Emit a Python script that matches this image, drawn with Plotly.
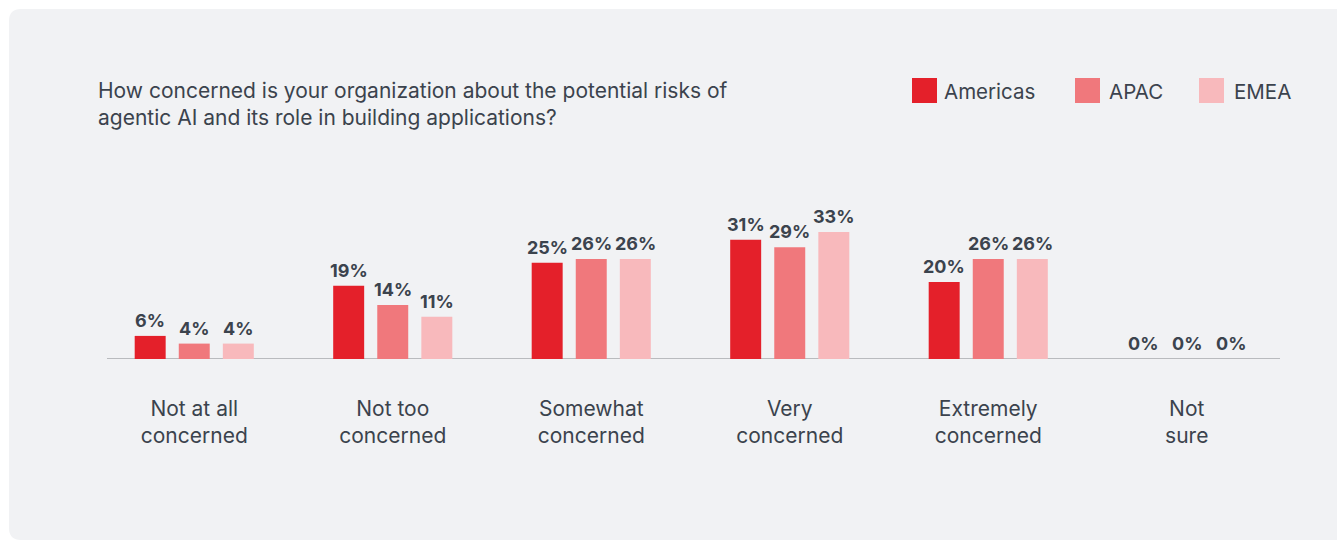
import plotly.graph_objects as go

# Survey responses by region (percent of respondents)
categories = ["Not at all<br>concerned", "Not too<br>concerned", "Somewhat<br>concerned",
              "Very<br>concerned", "Extremely<br>concerned", "Not<br>sure"]
regions = ["Americas", "APAC", "EMEA"]
americas = [6, 19, 25, 31, 20, 0]
apac = [4, 14, 26, 29, 26, 0]
emea = [4, 11, 26, 33, 26, 0]
colors = ["#E4202A", "#F0787C", "#F8B9BC"]

title_text = ("How concerned is your organization about the potential risks of<br>"
              "agentic AI and its role in building applications?")

W, H = 1337, 541
ML, MR, MT, MB = 95, 51, 205, 182
PW, PH = W - ML - MR, H - MT - MB

TEXT = "#3B434D"
FONT = "Inter"


def px_x(p):
    return (p - ML) / PW


def px_y(p):
    return (H - MB - p) / PH


fig = go.Figure()
x_idx = list(range(len(categories)))
series = [americas, apac, emea]
for name, vals, col in zip(regions, series, colors):
    fig.add_trace(go.Bar(
        x=x_idx, y=vals, name=name, marker=dict(color=col, line=dict(width=0)),
        showlegend=False, cliponaxis=False,
    ))

annotations = []
# value labels above each bar, offset sideways to sit on its bar within the group
group_offsets = [-44, 0, 44]
for vals, dx in zip(series, group_offsets):
    for i, v in zip(x_idx, vals):
        annotations.append(dict(text=f"{v}%", x=i, y=v, xref="x", yref="y",
                                xshift=dx, yshift=3, xanchor="center", yanchor="bottom",
                                showarrow=False,
                                font=dict(family=FONT, size=18, color=TEXT, weight="bold")))

shapes = []
# grey rounded panel behind the chart (pixel offsets from the plot origin)
x0, x1 = 9 - ML, 1350 - ML
y_top, y_bot = (H - MB) - 9, (H - MB) - 540
r = 12
panel_path = (f"M{x0 + r},{y_top} L{x1},{y_top} L{x1},{y_bot} L{x0 + r},{y_bot} "
              f"Q{x0},{y_bot} {x0},{y_bot + r} L{x0},{y_top - r} Q{x0},{y_top} {x0 + r},{y_top} Z")
shapes.append(dict(type="path", path=panel_path, xref="paper", yref="paper",
                   xsizemode="pixel", ysizemode="pixel", xanchor=0, yanchor=0,
                   fillcolor="#F1F2F4", line=dict(width=0), layer="below"))
# baseline
shapes.append(dict(type="line", xref="paper", yref="y", x0=px_x(107), x1=px_x(1280), y0=0, y1=0,
                   line=dict(color="#B9BBBE", width=2), layer="below"))

annotations.append(dict(text=title_text, xref="paper", yref="paper", x=px_x(96), y=px_y(76),
                        xanchor="left", yanchor="top", align="left", showarrow=False,
                        font=dict(family=FONT, size=21, color=TEXT)))

# legend swatches and labels
legend_sq = [912, 1075, 1199]
legend_tx = [942, 1107, 1232]
for name, col, sx, tx in zip(regions, colors, legend_sq, legend_tx):
    shapes.append(dict(type="rect", xref="paper", yref="paper",
                       x0=px_x(sx), x1=px_x(sx + 25), y0=px_y(103), y1=px_y(78),
                       fillcolor=col, line=dict(width=0)))
    annotations.append(dict(text=name, xref="paper", yref="paper", x=px_x(tx), y=px_y(91),
                            xanchor="left", yanchor="middle", showarrow=False,
                            font=dict(family=FONT, size=20.5, color=TEXT)))

fig.update_layout(
    width=W, height=H,
    margin=dict(l=ML, r=MR, t=MT, b=MB),
    paper_bgcolor="white", plot_bgcolor="rgba(0,0,0,0)",
    barmode="group", bargap=0.334, bargroupgap=0.297,
    shapes=shapes, annotations=annotations,
    showlegend=False,
    xaxis=dict(range=[-0.5, 5.5], tickmode="array", tickvals=x_idx, ticktext=categories,
               showgrid=False, zeroline=False, showline=False, ticks="",
               ticklabelstandoff=35,
               tickfont=dict(family=FONT, size=21, color=TEXT)),
    yaxis=dict(range=[0, 40], visible=False, showgrid=False, zeroline=False),
)

fig.write_html("out.html")
